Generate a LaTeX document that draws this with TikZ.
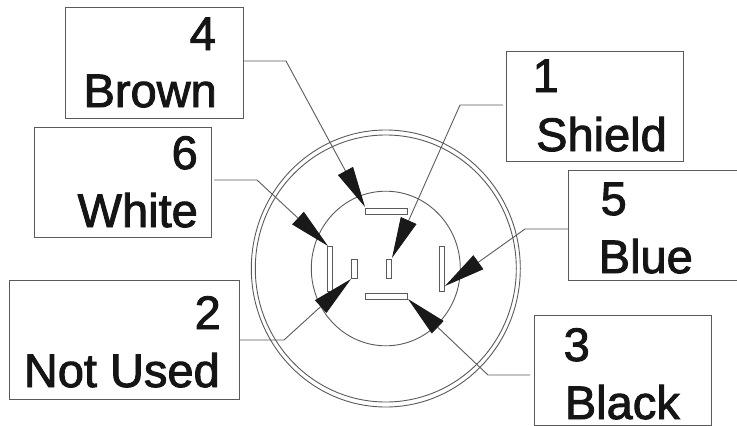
\documentclass[tikz,border=0pt]{standalone}
\usepackage{fontspec}
\setmainfont{Liberation Sans}
\usetikzlibrary{arrows.meta}
\definecolor{ink}{HTML}{5A5A5A}
\definecolor{txt}{HTML}{151515}
\newcommand{\heavy}[1]{\special{pdf:code q 2 Tr 0.9 w}#1\special{pdf:code Q}}
\tikzset{
  x=1pt,y=-1pt,
  box/.style={draw=ink,line width=1pt,fill=white,inner sep=0pt,anchor=north west},
  lab/.style={text=txt,font=\fontsize{47}{47}\selectfont,inner sep=0pt,anchor=base east},
  conn/.style={draw=ink,line width=0.9pt,line join=round,-{Triangle[length=41pt,width=17pt,color=black!90]}},
  pin/.style={draw=ink,line width=0.9pt,fill=white},
  ring/.style={draw=ink,line width=0.9pt}
}
\begin{document}
\begin{tikzpicture}
\useasboundingbox (0,0) rectangle (737,426);
\coordinate (c) at (385.8,268.5);
\draw[ring] (c) ellipse[x radius=134.5,y radius=138.5];
\draw[ring] (c) ellipse[x radius=130.5,y radius=133.5];
\draw[ring] (c) ellipse[x radius=74.5,y radius=77.3];
% boxes
\node[box,minimum width=178pt,minimum height=111pt] (bBrown) at (65,7) {};
\node[box,minimum width=177pt,minimum height=110pt] (bWhite) at (34,127) {};
\node[box,minimum width=177pt,minimum height=110pt] (bShield) at (506,51) {};
\node[box,minimum width=175pt,minimum height=110pt] (bBlue) at (568,170) {};
\node[box,minimum width=230pt,minimum height=119pt] (bNot) at (9,280) {};
\node[box,minimum width=177pt,minimum height=110pt] (bBlack) at (534,315) {};
% labels
\node[lab] (n4) at (216,50) {\heavy{4}};
\node[lab] (tBrown) at (217,107) {\heavy{Brown}};
\node[lab] (n6) at (198,169) {\heavy{6}};
\node[lab] (tWhite) at (198,227) {\heavy{White}};
\node[lab] (n1) at (559,92) {\heavy{1}};
\node[lab] (tShield) at (667,151) {\heavy{Shield}};
\node[lab] (n5) at (627,215) {\heavy{5}};
\node[lab] (tBlue) at (693,273) {\heavy{Blue}};
\node[lab] (n2) at (221,329) {\heavy{2}};
\node[lab] (tNot) at (220,387) {\heavy{Not Used}};
\node[lab] (n3) at (590,361) {\heavy{3}};
\node[lab] (tBlack) at (680,419) {\heavy{Black}};
% pins
\draw[pin] (365,208) rectangle (407,214);
\draw[pin] (327,246) rectangle (332,291);
\draw[pin] (351,259) rectangle (357,278);
\draw[pin] (386,259) rectangle (391,278);
\draw[pin] (439,246) rectangle (444,291);
\draw[pin] (365,293) rectangle (407,299);
% connectors
\coordinate (t4) at (365,207);
\coordinate (t6) at (328,246);
\coordinate (t1) at (392,258);
\coordinate (t5) at (445,286);
\coordinate (t2) at (351,279);
\coordinate (t3) at (408,299);
\coordinate (s6) at (214,180);
\coordinate (s1) at (503,105);
\coordinate (s3) at (530,375);
\draw[conn] (bBrown.east |- 0,61) -- (286,61) -- (t4);
\draw[conn] (s6) -- (257,180) -- (t6);
\draw[conn] (s1) -- (460,105) -- (t1);
\draw[conn] (bBlue.west |- 0,229) -- (525,229) -- (t5);
\draw[conn] (bNot.east |- 0,340) -- (284,340) -- (t2);
\draw[conn] (s3) -- (488,375) -- (t3);
\end{tikzpicture}
\end{document}
